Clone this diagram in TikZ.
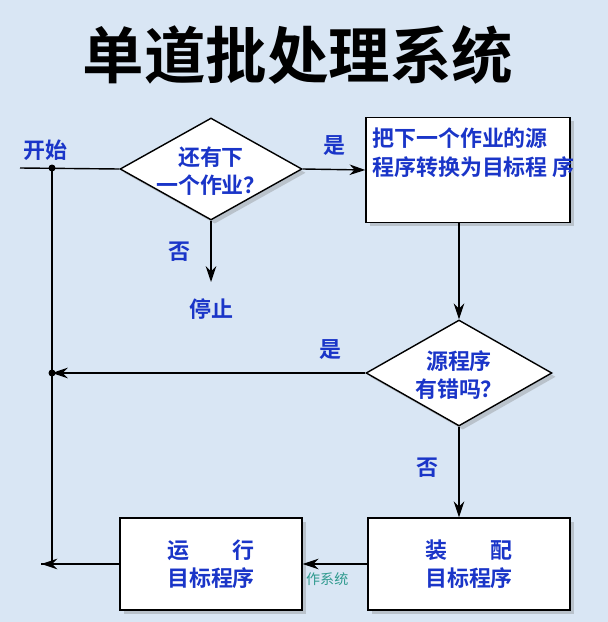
\documentclass[tikz,border=0pt]{standalone}
\usepackage{fontspec}
\newfontfamily\cjk{Noto Sans CJK SC}
\newfontfamily\cjkb{Noto Sans CJK SC Bold}
\usetikzlibrary{shapes.geometric,shadows,arrows.meta}
\definecolor{bgblue}{HTML}{D9E6F4}
\definecolor{txtblue}{HTML}{1A35C8}
\definecolor{opteal}{HTML}{2E9A8E}
\tikzset{
  box/.style={draw, thick, fill=white, minimum width=#1, drop shadow={opacity=0.35}},
  decide/.style={diamond, draw, thick, fill=white, drop shadow={opacity=0.35}},
  lbl/.style={text=txtblue, font=\cjkb\fontsize{12.5}{16}\selectfont},
  flow/.style={thick, -{Stealth[length=9pt,width=6pt]}},
}
\begin{document}
\begin{tikzpicture}[x=0.02cm, y=-0.02cm]
  \fill [bgblue] (0,0) rectangle (608,622);
  \useasboundingbox (0,0) rectangle (608,622);
  \node (title) at (298,55) {\cjkb\fontsize{35}{40}\selectfont 单道批处理系统};
  % start and first question
  \coordinate (start) at (20,168);
  \coordinate (top) at (52,168);
  \node [lbl] (go) at (45,150) {开始};
  \node [decide, minimum width=3.64cm, minimum height=2.04cm, inner sep=0pt] (more) at (211,169) {};
  \node [lbl, align=center] at (211,171) {还有下\\一个作业？};
  \node [box=4.08cm, minimum height=2.1cm] (conv) at (468,170) {};
  \node [lbl, align=left, anchor=north west] at (366,122) {把下一个作业的源\\程序转换为目标程 序};
  \coordinate (halt) at (211,282);
  \node [lbl] (stop) at (211,309) {停止};
  % second question
  \node [decide, minimum width=3.72cm, minimum height=2.12cm, inner sep=0pt] (err) at (459,373) {};
  \node [lbl, align=center] at (459,375) {源程序\\有错吗？};
  \coordinate (mid) at (52,373);
  % bottom boxes
  \node [box=4.04cm, minimum height=1.84cm, lbl, align=center] (load) at (469,564) {装\hspace{2em}配\\目标程序};
  \node [box=3.64cm, minimum height=1.84cm, lbl, align=center] (run) at (211,564) {运\hspace{2em}行\\目标程序};
  \coordinate (bot) at (52,564);
  % connectors
  \draw [thick] (start) -- (more.west);
  \draw [flow] (more.east) -- node [lbl, above=4pt] {是} (conv.west);
  \draw [flow] (more.south) -- node [lbl, left=8pt] {否} (halt);
  \draw [flow] (conv.south -| err.north) -- (err.north);
  \draw [flow] (err.west) -- node [lbl, above=4pt, pos=0.11] {是} (mid);
  \draw [flow] (err.south) -- node [lbl, left=8pt, pos=0.45] {否} (err.south |- load.north);
  \draw [flow] (load.west) -- node [below=1pt, text=opteal, font=\cjk\fontsize{8}{10}\selectfont, pos=0.62] {作系统} (run.east);
  \draw [flow] (run.west) -- ([xshift=-6]bot);
  \draw [thick] ([xshift=-6]bot) -- (bot) -- (top);
  \fill (top) circle (3.5);
  \fill (mid) circle (3.5);
\end{tikzpicture}
\end{document}
